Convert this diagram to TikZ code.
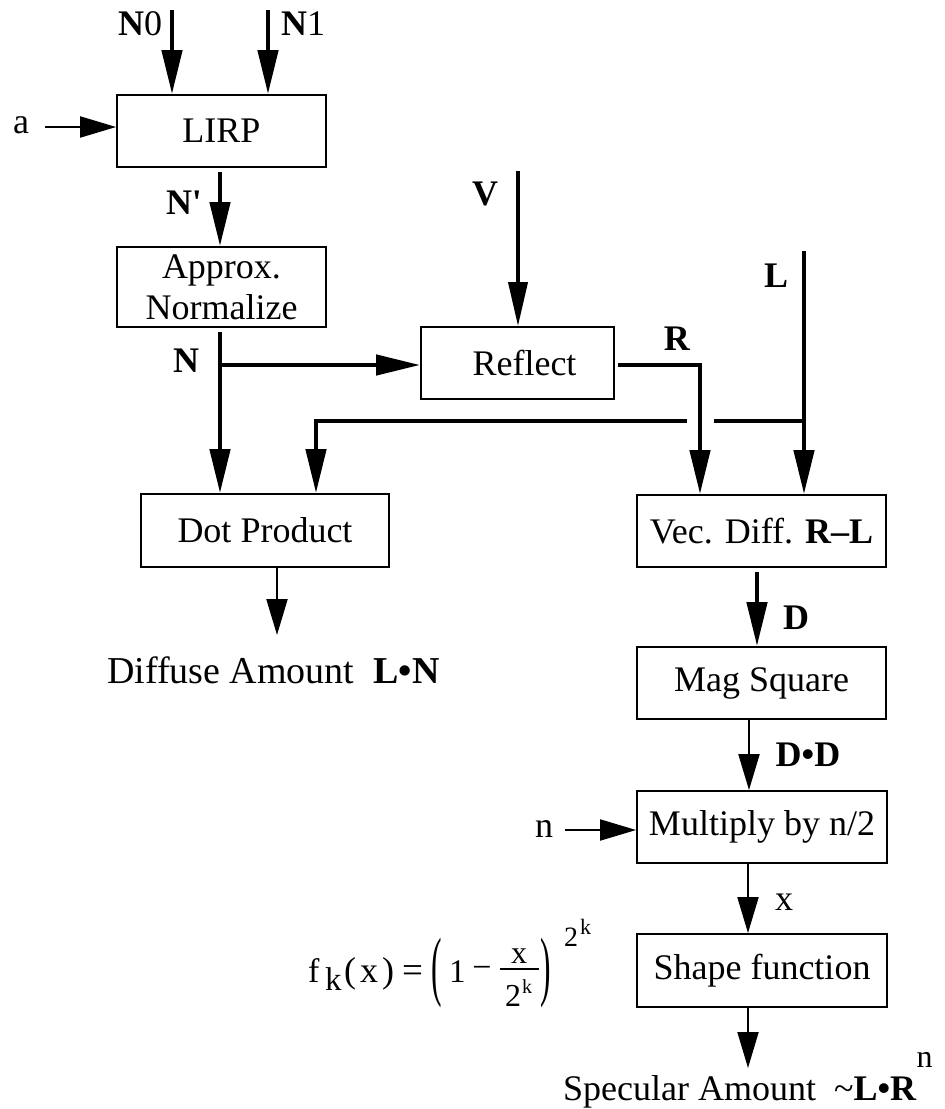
\documentclass[tikz,border=0pt]{standalone}
\usepackage{graphicx}
\usepackage{fontspec}
\setmainfont{Liberation Serif}
\usetikzlibrary{arrows.meta}
\newcommand\bigfs{\fontsize{36}{41}\selectfont}
\newcommand\fsz[1]{\fontsize{#1}{#1}\selectfont}
\tikzset{
  blk/.style={draw, line width=1.8pt, inner sep=0pt, align=center, font=\bigfs},
  lbl/.style={inner sep=0pt, font=\bigfs},
  fml/.style={inner sep=0pt, anchor=base west},
  thk/.style={line width=4.5pt, -{Triangle[length=44pt,width=20pt]}},
  thkv/.style={line width=3.8pt, -{Triangle[length=44pt,width=19pt]}},
  thn/.style={line width=2pt, -{Triangle[length=36pt,width=21pt]}},
  bar/.style={line width=4.5pt},
}
\begin{document}
\begin{tikzpicture}[x=1pt,y=-1pt]
\useasboundingbox (0,0) rectangle (945,1109);
% boxes
\node[blk, minimum width=209pt, minimum height=72pt] (lirp) at (221.5,131) {LIRP};
\node[blk, minimum width=209pt, minimum height=80pt] (norm) at (221.5,287) {Approx.\\Normalize};
\node[blk, minimum width=193pt, minimum height=72pt] (refl) at (517.5,363) {\hspace*{14pt}Reflect};
\node[blk, minimum width=248pt, minimum height=73pt] (dot) at (265,530.5) {Dot Product};
\node[blk, minimum width=249pt, minimum height=72pt] (vec) at (761.5,531) {Vec. Diff. \textbf{R–L}};
\node[blk, minimum width=249pt, minimum height=72pt] (mag) at (761.5,683) {Mag Square};
\node[blk, minimum width=250pt, minimum height=72pt] (mul) at (762,827) {Multiply by n/2};
\node[blk, minimum width=250pt, minimum height=73pt] (shp) at (762,970.5) {Shape function};
% labels
\node[lbl] (lN0) at (140,24) {\textbf{N}0};
\node[lbl] (lN1) at (303,24) {\textbf{N}1};
\node[lbl] (la) at (21,125) {a};
\node[lbl] (lNp) at (184,203) {\textbf{N\textquotesingle}};
\node[lbl] (lN) at (186,361) {\textbf{N}};
\node[lbl] (lV) at (485,194) {\textbf{V}};
\node[lbl] (lL) at (776,276) {\textbf{L}};
\node[lbl] (lR) at (677,339) {\textbf{R}};
\node[lbl] (lD) at (796,618) {\textbf{D}};
\node[lbl] (lDD) at (808,755) {\textbf{D•D}};
\node[lbl] (lx) at (784,902) {x};
\node[lbl] (ln) at (544,829) {n};
\node[lbl, font=\fsz{38}, anchor=base west] (diff) at (107,683) {Diffuse Amount\ \ \textbf{L•N}};
\node[lbl, anchor=base west] (spec) at (563,1100) {Specular Amount\ \ \textasciitilde\textbf{L•R}\raisebox{33pt}{\fsz{32}n}};
% formula f_k(x) = (1 - x/2^k)^(2^k)
\node[fml, font=\fsz{34}] (ff) at (308,982) {f};
\node[fml, font=\fsz{33}] (fsub) at (325,990) {k};
\node[fml, font=\fsz{36}] (fx) at (344,982) {(\hspace{4pt}x\hspace{4pt})};
\node[fml, font=\fsz{37}] (feq) at (402,982) {=};
\node[inner sep=0pt] (lp) at (437,972.5) {\scalebox{0.9}[2.2]{\fsz{35}(}};
\node[fml, font=\fsz{33}] (one) at (449,982) {1};
\node[inner sep=0pt, font=\fsz{34}] (minus) at (482,972) {−};
\node[inner sep=0pt, anchor=base, font=\fsz{32}] (num) at (519,963) {x};
\node[fml, font=\fsz{32}] (den) at (505,1006) {2};
\node[fml, font=\fsz{20}] (denk) at (522,993) {k};
\draw[line width=1.6pt] (500,969) -- (539,969);
\node[inner sep=0pt] (rp) at (546,972.5) {\scalebox{0.9}[2.2]{\fsz{35})}};
\node[fml, font=\fsz{28}] (sup2) at (564,946) {2};
\node[fml, font=\fsz{22}] (supk) at (580,934) {k};
% coordinates
\coordinate (n0s) at (172,10);
\coordinate (n1s) at (268,10);
\coordinate (as) at (45,127);
\coordinate (nps) at (220,172);
\coordinate (ns) at (220,332);
\coordinate (nj) at (220,365);
\coordinate (vs) at (518,171);
\coordinate (rs) at (618,365);
\coordinate (rc) at (700,365);
\coordinate (ls) at (804,251);
\coordinate (lj) at (804,421);
\coordinate (g1) at (714,421);
\coordinate (g2) at (687,421);
\coordinate (lc) at (316,421);
\coordinate (dout) at (277,635);
\coordinate (ds) at (757,572);
\coordinate (ddx) at (749,700);
\coordinate (nsrc) at (565,830);
\coordinate (xx) at (748,900);
\coordinate (sout) at (748,1068);
% connectors
\draw[thk] (n0s) -- (n0s |- lirp.north);
\draw[thk] (n1s) -- (n1s |- lirp.north);
\draw[thn] (as) -- (as -| lirp.west);
\draw[thk] (nps) -- (nps |- norm.north);
\draw[thk] (ns) -- (ns |- dot.north);
\draw[thk] (nj) -- (nj -| refl.west);
\draw[thkv] (vs) -- (vs |- refl.north);
\draw[thk] (rs) -- (rc) -- (rc |- vec.north);
\draw[thk] (ls) -- (ls |- vec.north);
\draw[bar] (lj) -- (g1);
\draw[thk] (g2) -- (lc) -- (lc |- dot.north);
\draw[thn] (dout |- dot.south) -- (dout);
\draw[thk] (ds) -- (ds |- mag.north);
\draw[thn] (ddx |- mag.south) -- (ddx |- mul.north);
\draw[thn] (nsrc) -- (nsrc -| mul.west);
\draw[thn] (xx |- mul.south) -- (xx |- shp.north);
\draw[thn] (sout |- shp.south) -- (sout);
\end{tikzpicture}
\end{document}
